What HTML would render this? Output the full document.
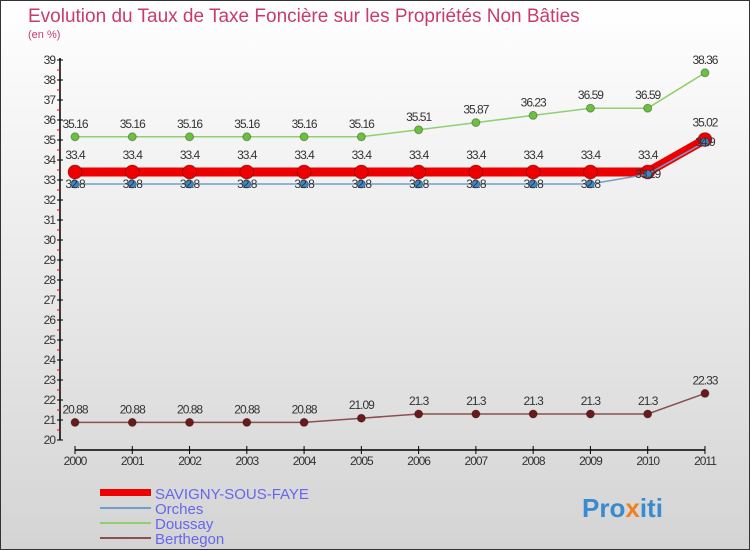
<!DOCTYPE html>
<html><head><meta charset="utf-8"><style>
body{margin:0;width:750px;height:550px;overflow:hidden;font-family:"Liberation Sans",sans-serif}
#c{position:absolute;left:0;top:0;width:748px;height:548px;border:1px solid #333;background:linear-gradient(#fff,#d4d4d4)}
</style></head><body>
<div id="c"></div>
<svg id="s" width="750" height="550" style="position:absolute;left:0;top:0">
<text x="28" y="22" font-size="19" fill="#c83c6a">Evolution du Taux de Taxe Foncière sur les Propriétés Non Bâties</text>
<text x="28" y="38" font-size="11" fill="#c83c6a">(en %)</text>
<g id="axes"></g><g id="series"></g>
<g>
<rect x="100" y="489" width="51" height="7" fill="#e00"/>
<line x1="100" y1="508" x2="151" y2="508" stroke="#6fa0cc" stroke-width="2"/>
<line x1="100" y1="523" x2="151" y2="523" stroke="#90d070" stroke-width="2"/>
<line x1="100" y1="538" x2="151" y2="538" stroke="#8a5050" stroke-width="2"/>
<text x="155" y="499" font-size="15" fill="#6666ee">SAVIGNY-SOUS-FAYE</text>
<text x="155" y="514" font-size="15" fill="#6666ee">Orches</text>
<text x="155" y="529" font-size="15" fill="#6666ee">Doussay</text>
<text x="155" y="544" font-size="15" fill="#6666ee">Berthegon</text>
</g>
<text x="582" y="517" font-size="26" font-weight="bold" fill="#3a8ad0">Pro<tspan fill="#f08020">x</tspan>iti</text>
</svg>
<script>
const years=[2000,2001,2002,2003,2004,2005,2006,2007,2008,2009,2010,2011];
const yTicks=[20,21,22,23,24,25,26,27,28,29,30,31,32,33,34,35,36,37,38,39];
const savigny=[33.4,33.4,33.4,33.4,33.4,33.4,33.4,33.4,33.4,33.4,33.4,35.02];
const orches=[32.8,32.8,32.8,32.8,32.8,32.8,32.8,32.8,32.8,32.8,33.29,34.9];
const doussay=[35.16,35.16,35.16,35.16,35.16,35.16,35.51,35.87,36.23,36.59,36.59,38.36];
const berthegon=[20.88,20.88,20.88,20.88,20.88,21.09,21.3,21.3,21.3,21.3,21.3,22.33];
const NS="http://www.w3.org/2000/svg";
const xs=i=>75+i*57.27, ys=v=>440-(v-20)*20;
function mk(t,a,p){const e=document.createElementNS(NS,t);for(const k in a)e.setAttribute(k,a[k]);p.appendChild(e);return e;}
const ax=document.getElementById('axes'), sg=document.getElementById('series');
let l=mk('line',{x1:60,y1:58,x2:60,y2:440,stroke:'#000','stroke-width':1.5},ax);


l=mk('line',{x1:75,y1:450,x2:705,y2:450,stroke:'#000','stroke-width':1.5},ax);


yTicks.forEach(v=>{const y=ys(v);
 mk('line',{x1:57,y1:y,x2:63,y2:y,stroke:'#000'},ax);
 if(v<39)mk('line',{x1:57,y1:y-10,x2:60,y2:y-10,stroke:'#e00'},ax);
 const t=mk('text',{x:55,y:y+4,'font-size':12,fill:'#333','text-anchor':'end','letter-spacing':'-1'},ax);t.textContent=v;
 
 });
years.forEach((yr,i)=>{const x=xs(i);
 mk('line',{x1:x,y1:446,x2:x,y2:454,stroke:'#000'},ax);
 const t=mk('text',{x:x,y:465,'font-size':12,fill:'#333','text-anchor':'middle','letter-spacing':'-1'},ax);t.textContent=yr;
 
 });
function series(name,data,col,w,r,dot,lab){
 const g=mk('g',{},sg);
 
 
 const p=mk('polyline',{points:data.map((v,i)=>xs(i)+','+ys(v)).join(' '),fill:'none',stroke:col,'stroke-width':w},g);
 
 
 data.forEach((v,i)=>{const c=mk('circle',{cx:xs(i),cy:ys(v),r:r,fill:dot,stroke:'rgba(0,0,0,0.3)'},g);
  
  
  const t=mk('text',{x:xs(i),y:ys(v)-lab,'font-size':12,fill:'#333','text-anchor':'middle','letter-spacing':'-1'},g);t.textContent=v;
  
  });
}
series('doussay',doussay,'#90d070',1.5,4,'#6cc040',9);
series('berthegon',berthegon,'#8a5050',1.5,4,'#6a1a1a',9);
series('savigny',savigny,'#e00',9,7,'#e00',13);
series('orches',orches,'#6fa0cc',1.5,4,'#3a88cc',-4);
</script>
</body></html>
